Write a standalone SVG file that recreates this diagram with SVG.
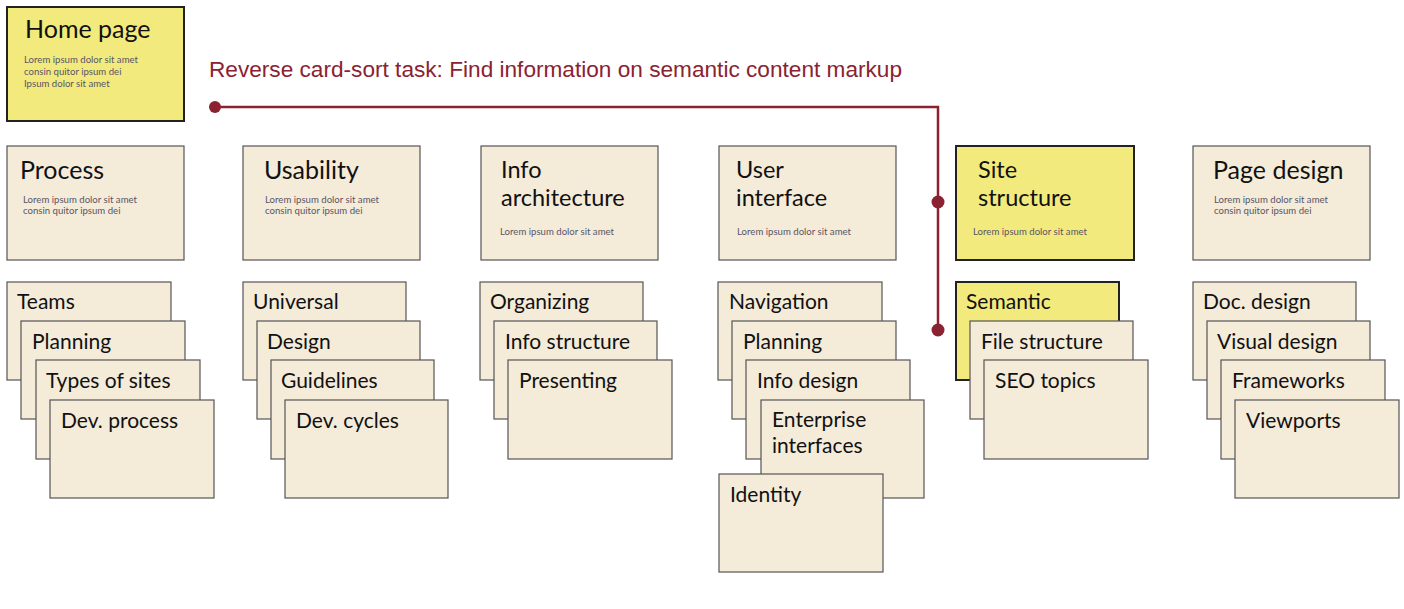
<svg xmlns="http://www.w3.org/2000/svg" width="1404" height="609" viewBox="0 0 1404 609">
<style>
.card{fill:#f4ebd9;stroke:#555;stroke-width:1.2}
.hi{fill:#f2ea7c;stroke:#222;stroke-width:2}
.t{font-family:Lato,"Noto Sans",sans-serif;font-size:21px;fill:#111}
.h{font-family:Lato,"Noto Sans",sans-serif;font-size:25px;fill:#111}
.h2{font-family:Lato,"Noto Sans",sans-serif;font-size:23.5px;fill:#111}
.l{font-family:Lato,"Noto Sans",sans-serif;font-size:9.6px;fill:#5a5566}
.conn{fill:none;stroke:#8b2231;stroke-width:2.5}
.dot{fill:#8b2231}
</style>
<rect width="1404" height="609" fill="#ffffff"/>
<g id="home-page">
<rect class="hi" x="7" y="7" width="177" height="114"/>
<text class="h" x="25" y="38">Home page</text>
<text class="l" x="24" y="63" font-size="9.2">Lorem ipsum dolor sit amet</text>
<text class="l" x="24" y="75" font-size="9.2">consin quitor ipsum dei</text>
<text class="l" x="24" y="87" font-size="9.2">Ipsum dolor sit amet</text>
</g>
<g id="task-title">
<text x="209" y="77" font-family="'Liberation Sans',Arial,sans-serif" font-size="22" fill="#8b2231" textLength="693" lengthAdjust="spacingAndGlyphs">Reverse card-sort task: Find information on semantic content markup</text>
</g>
<g id="connectors">
<path class="conn" d="M215 107 H938 V330"/>
<circle class="dot" cx="215" cy="107" r="6"/>
<circle class="dot" cx="938" cy="202" r="6.5"/>
<circle class="dot" cx="938" cy="330" r="6.5"/>
</g>
<g id="process">
<rect class="card" x="7" y="146" width="177" height="114"/>
<text class="h" x="20" y="179">Process</text>
<text class="l" x="23" y="203">Lorem ipsum dolor sit amet</text>
<text class="l" x="23" y="214">consin quitor ipsum dei</text>
</g>
<g id="usability">
<rect class="card" x="243" y="146" width="177" height="114"/>
<text class="h" x="264" y="179">Usability</text>
<text class="l" x="265" y="203">Lorem ipsum dolor sit amet</text>
<text class="l" x="265" y="214">consin quitor ipsum dei</text>
</g>
<g id="info-architecture">
<rect class="card" x="481" y="146" width="177" height="114"/>
<text class="h2" x="501" y="178">Info</text>
<text class="h2" x="501" y="206">architecture</text>
<text class="l" x="500" y="235">Lorem ipsum dolor sit amet</text>
</g>
<g id="user-interface">
<rect class="card" x="719" y="146" width="177" height="114"/>
<text class="h2" x="736" y="178">User</text>
<text class="h2" x="736" y="206">interface</text>
<text class="l" x="737" y="235">Lorem ipsum dolor sit amet</text>
</g>
<g id="site-structure">
<rect class="hi" x="956" y="146" width="178" height="114"/>
<text class="h2" x="978" y="178">Site</text>
<text class="h2" x="978" y="206">structure</text>
<text class="l" x="973" y="235">Lorem ipsum dolor sit amet</text>
</g>
<g id="page-design">
<rect class="card" x="1193" y="146" width="177" height="114"/>
<text class="h" x="1213" y="179">Page design</text>
<text class="l" x="1214" y="203">Lorem ipsum dolor sit amet</text>
<text class="l" x="1214" y="214">consin quitor ipsum dei</text>
</g>
<g id="teams"><rect class="card" x="7" y="282" width="164" height="98"/><text class="t" x="17" y="309">Teams</text></g>
<g id="planning-1"><rect class="card" x="21" y="321" width="164" height="98"/><text class="t" x="32" y="349">Planning</text></g>
<g id="types-of-sites"><rect class="card" x="36" y="360" width="164" height="99"/><text class="t" x="46" y="388">Types of sites</text></g>
<g id="dev-process"><rect class="card" x="50" y="400" width="164" height="98"/><text class="t" x="61" y="428">Dev. process</text></g>
<g id="universal"><rect class="card" x="243" y="282" width="163" height="98"/><text class="t" x="253" y="309">Universal</text></g>
<g id="design"><rect class="card" x="257" y="321" width="163" height="98"/><text class="t" x="267" y="349">Design</text></g>
<g id="guidelines"><rect class="card" x="271" y="360" width="163" height="99"/><text class="t" x="281" y="388">Guidelines</text></g>
<g id="dev-cycles"><rect class="card" x="285" y="400" width="163" height="98"/><text class="t" x="296" y="428">Dev. cycles</text></g>
<g id="organizing"><rect class="card" x="480" y="282" width="163" height="98"/><text class="t" x="490" y="309">Organizing</text></g>
<g id="info-structure"><rect class="card" x="494" y="321" width="163" height="98"/><text class="t" x="505" y="349">Info structure</text></g>
<g id="presenting"><rect class="card" x="508" y="360" width="164" height="99"/><text class="t" x="519" y="388">Presenting</text></g>
<g id="navigation"><rect class="card" x="718" y="282" width="164" height="98"/><text class="t" x="729" y="309">Navigation</text></g>
<g id="planning-2"><rect class="card" x="732" y="321" width="164" height="98"/><text class="t" x="743" y="349">Planning</text></g>
<g id="info-design"><rect class="card" x="746" y="360" width="164" height="99"/><text class="t" x="757" y="388">Info design</text></g>
<g id="enterprise-interfaces"><rect class="card" x="761" y="400" width="163" height="98"/><text class="t" x="772" y="427">Enterprise</text><text class="t" x="772" y="453">interfaces</text></g>
<g id="identity"><rect class="card" x="719" y="474" width="164" height="98"/><text class="t" x="730" y="502">Identity</text></g>
<g id="semantic"><rect class="hi" x="956" y="282" width="163" height="98"/><text class="t" x="966" y="309">Semantic</text></g>
<g id="file-structure"><rect class="card" x="970" y="321" width="163" height="98"/><text class="t" x="981" y="349">File structure</text></g>
<g id="seo-topics"><rect class="card" x="984" y="360" width="164" height="99"/><text class="t" x="995" y="388">SEO topics</text></g>
<g id="doc-design"><rect class="card" x="1193" y="282" width="163" height="98"/><text class="t" x="1203" y="309">Doc. design</text></g>
<g id="visual-design"><rect class="card" x="1207" y="321" width="163" height="98"/><text class="t" x="1217" y="349">Visual design</text></g>
<g id="frameworks"><rect class="card" x="1221" y="360" width="164" height="99"/><text class="t" x="1232" y="388">Frameworks</text></g>
<g id="viewports"><rect class="card" x="1235" y="400" width="164" height="98"/><text class="t" x="1246" y="428">Viewports</text></g>
</svg>
